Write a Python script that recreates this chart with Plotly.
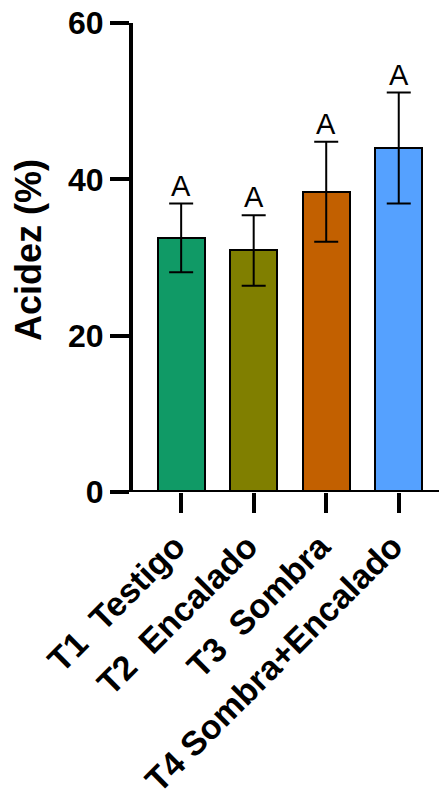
import plotly.graph_objects as go

categories = ["T1  Testigo", "T2  Encalado", "T3  Sombra", "T4 Sombra+Encalado"]
means = [32.5, 30.9, 38.4, 44.0]
errors = [4.4, 4.5, 6.4, 7.1]
letters = ["A", "A", "A", "A"]
colors = ["#109A66", "#807F00", "#C26000", "#55A1FF"]
y_ticks = [0, 20, 40, 60]

FONT = "Liberation Sans, Arial, sans-serif"

fig = go.Figure()
fig.add_trace(go.Bar(
    x=list(range(len(categories))),
    y=means,
    width=0.645,
    marker=dict(color=colors, line=dict(color="black", width=2)),
    error_y=dict(type="data", array=errors, symmetric=True, color="black",
                 thickness=2, width=12),
    showlegend=False,
))

for i, (m, e, t) in enumerate(zip(means, errors, letters)):
    fig.add_annotation(x=i, y=m + e, text=t, showarrow=False, yanchor="bottom",
                       yshift=0, font=dict(family=FONT, size=29, color="black"))

# x axis line extending left past the y axis
fig.add_shape(type="line", xref="paper", yref="y", x0=-0.062, x1=1, y0=0, y1=0,
              line=dict(color="black", width=4), layer="above")

fig.add_annotation(xref="paper", yref="paper", x=-0.34, y=0.516, xanchor="center",
                   yanchor="middle", text="<b>Acidez (%)</b>",
                   textangle=-90, showarrow=False,
                   font=dict(family=FONT, size=36, color="black"))

fig.update_layout(
    width=439, height=803,
    margin=dict(l=133, r=0, t=23, b=311, autoexpand=False),
    plot_bgcolor="white", paper_bgcolor="white",
    font=dict(family=FONT, color="black"),
    bargap=0,
)
fig.update_xaxes(
    range=[-0.664, 3.555], automargin=False,
    tickmode="array", tickvals=list(range(len(categories))),
    ticktext=[f"<b>{c}</b>" for c in categories],
    tickangle=-45, ticks="outside", ticklen=20, tickwidth=4, tickcolor="black",
    tickfont=dict(family=FONT, size=34, color="black"),
    ticklabelshift=-6,
    showline=False, showgrid=False, zeroline=False,
)
fig.update_yaxes(
    range=[0, 60], automargin=False, tickmode="array", tickvals=y_ticks,
    ticktext=[f"<b>{v}</b>" for v in y_ticks],
    ticks="outside", ticklen=19, tickwidth=4, tickcolor="black",
    tickfont=dict(family=FONT, size=32, color="black"),
    showline=True, linewidth=4, linecolor="black",
    showgrid=False, zeroline=False,
)

fig.write_html("out.html")
